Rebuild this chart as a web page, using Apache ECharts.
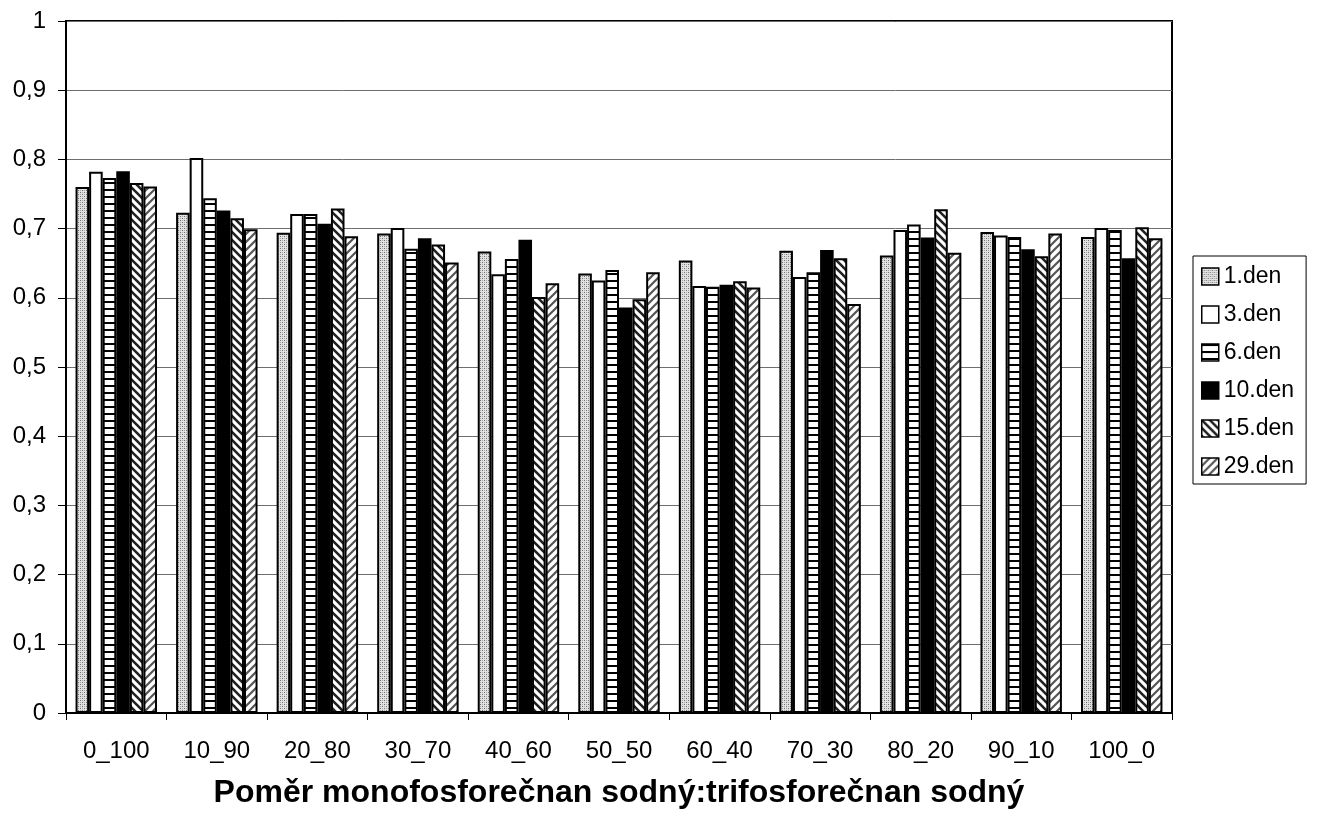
<!DOCTYPE html>
<html>
<head>
<meta charset="utf-8">
<script src="https://cdn.jsdelivr.net/npm/echarts@6/dist/echarts.min.js"></script>
<style>
  html, body { margin: 0; padding: 0; background: #fff; }
  #chart { width: 1318px; height: 816px; }
</style>
</head>
<body>
<div id="chart"></div>
<script>
// Ratio categories (monophosphate : triphosphate)
const categories = ['0_100', '10_90', '20_80', '30_70', '40_60', '50_50', '60_40', '70_30', '80_20', '90_10', '100_0'];

// Measured values per day
const day1  = [0.760, 0.723, 0.694, 0.693, 0.667, 0.635, 0.654, 0.668, 0.661, 0.695, 0.688];
const day3  = [0.782, 0.802, 0.721, 0.701, 0.634, 0.625, 0.617, 0.630, 0.698, 0.690, 0.701];
const day6  = [0.773, 0.744, 0.721, 0.671, 0.656, 0.640, 0.616, 0.637, 0.706, 0.688, 0.698];
const day10 = [0.783, 0.726, 0.707, 0.686, 0.684, 0.586, 0.619, 0.669, 0.687, 0.670, 0.657];
const day15 = [0.766, 0.715, 0.729, 0.677, 0.601, 0.598, 0.624, 0.657, 0.728, 0.660, 0.702];
const day29 = [0.761, 0.699, 0.689, 0.651, 0.621, 0.637, 0.615, 0.591, 0.665, 0.693, 0.686];

const seriesNames = ['1.den', '3.den', '6.den', '10.den', '15.den', '29.den'];
const seriesData = [day1, day3, day6, day10, day15, day29];

const yTicks = [0, 0.1, 0.2, 0.3, 0.4, 0.5, 0.6, 0.7, 0.8, 0.9, 1];

// Fill patterns drawn on small canvases
function makeCanvas(w, h, draw) {
  const c = document.createElement('canvas');
  c.width = w; c.height = h;
  const ctx = c.getContext('2d');
  draw(ctx, w, h);
  return c;
}
const dotted = makeCanvas(4, 4, (ctx, w, h) => {
  ctx.fillStyle = '#e2e2e2'; ctx.fillRect(0, 0, w, h);
  ctx.fillStyle = '#707070';
  ctx.fillRect(0, 0, 1, 1); ctx.fillRect(2, 2, 1, 1);
  ctx.fillStyle = '#a8a8a8';
  ctx.fillRect(2, 0, 1, 1); ctx.fillRect(0, 2, 1, 1);
});
const hStripes = makeCanvas(7, 7, (ctx, w, h) => {
  ctx.fillStyle = '#fff'; ctx.fillRect(0, 0, w, h);
  ctx.fillStyle = '#000'; ctx.fillRect(0, 0, w, 2);
});
function diag(dir, color, lw) {
  return makeCanvas(8, 8, (ctx, w, h) => {
    ctx.fillStyle = '#fff'; ctx.fillRect(0, 0, w, h);
    ctx.strokeStyle = color; ctx.lineWidth = lw;
    ctx.beginPath();
    for (let k = -1; k <= 1; k++) {
      if (dir > 0) { // "\" direction
        ctx.moveTo(k * 8 - 1, -1); ctx.lineTo(k * 8 + 9, 9);
      } else {       // "/" direction
        ctx.moveTo(k * 8 - 1, 9); ctx.lineTo(k * 8 + 9, -1);
      }
    }
    ctx.stroke();
  });
}
const backDiag = diag(1, '#222', 2.6);
const fwdDiag = diag(-1, '#555', 2.2);

const fills = [
  { image: dotted, repeat: 'repeat' },
  '#ffffff',
  { image: hStripes, repeat: 'repeat' },
  '#000000',
  { image: backDiag, repeat: 'repeat' },
  { image: fwdDiag, repeat: 'repeat' }
];

const fmt = v => String(Math.round(v * 10) / 10).replace('.', ',');
const FONT = 'Liberation Sans, Arial, sans-serif';

const chart = echarts.init(document.getElementById('chart'), null, { renderer: 'canvas' });
chart.setOption({
  animation: false,
  backgroundColor: '#fff',
  grid: {
    left: 66, right: 146, top: 21, bottom: 103,
    outerBoundsMode: 'none',
    containLabel: false,
    show: true, borderColor: '#000', borderWidth: 2, backgroundColor: 'transparent'
  },
  legend: {
    orient: 'vertical',
    left: 1193, top: 256,
    padding: [9, 12, 6, 8],
    borderColor: '#000', borderWidth: 1,
    icon: 'rect',
    itemWidth: 17, itemHeight: 17, itemGap: 15,
    data: seriesNames,
    itemStyle: { borderColor: '#000', borderWidth: 1.5 },
    textStyle: { fontFamily: FONT, fontSize: 23, lineHeight: 23, color: '#000' }
  },
  xAxis: {
    type: 'category',
    data: categories,
    name: 'Poměr monofosforečnan sodný:trifosforečnan sodný',
    nameLocation: 'middle',
    nameGap: 64,
    nameTextStyle: { fontFamily: FONT, fontSize: 32, fontWeight: 'bold', color: '#000' },
    axisLine: { lineStyle: { color: '#000', width: 2 } },
    axisTick: { show: true, length: 7, lineStyle: { color: '#000', width: 1 } },
    axisLabel: { fontFamily: FONT, fontSize: 24, color: '#000', margin: 26 },
    splitLine: { show: false }
  },
  yAxis: {
    type: 'value',
    min: yTicks[0], max: yTicks[yTicks.length - 1], interval: 0.1,
    axisLine: { show: true, lineStyle: { color: '#000', width: 2 } },
    axisTick: { show: true, length: 8, lineStyle: { color: '#000', width: 1 } },
    axisLabel: { fontFamily: FONT, fontSize: 24, color: '#000', margin: 20, formatter: fmt },
    splitLine: { show: true, lineStyle: { color: '#6e6e6e', width: 1 } }
  },
  series: seriesNames.map((name, i) => ({
    name: name,
    type: 'bar',
    data: seriesData[i],
    barGap: '0%',
    barCategoryGap: '19%',
    itemStyle: { color: fills[i], borderColor: '#000', borderWidth: 2 },
    emphasis: { disabled: true }
  }))
});
</script>
</body>
</html>
